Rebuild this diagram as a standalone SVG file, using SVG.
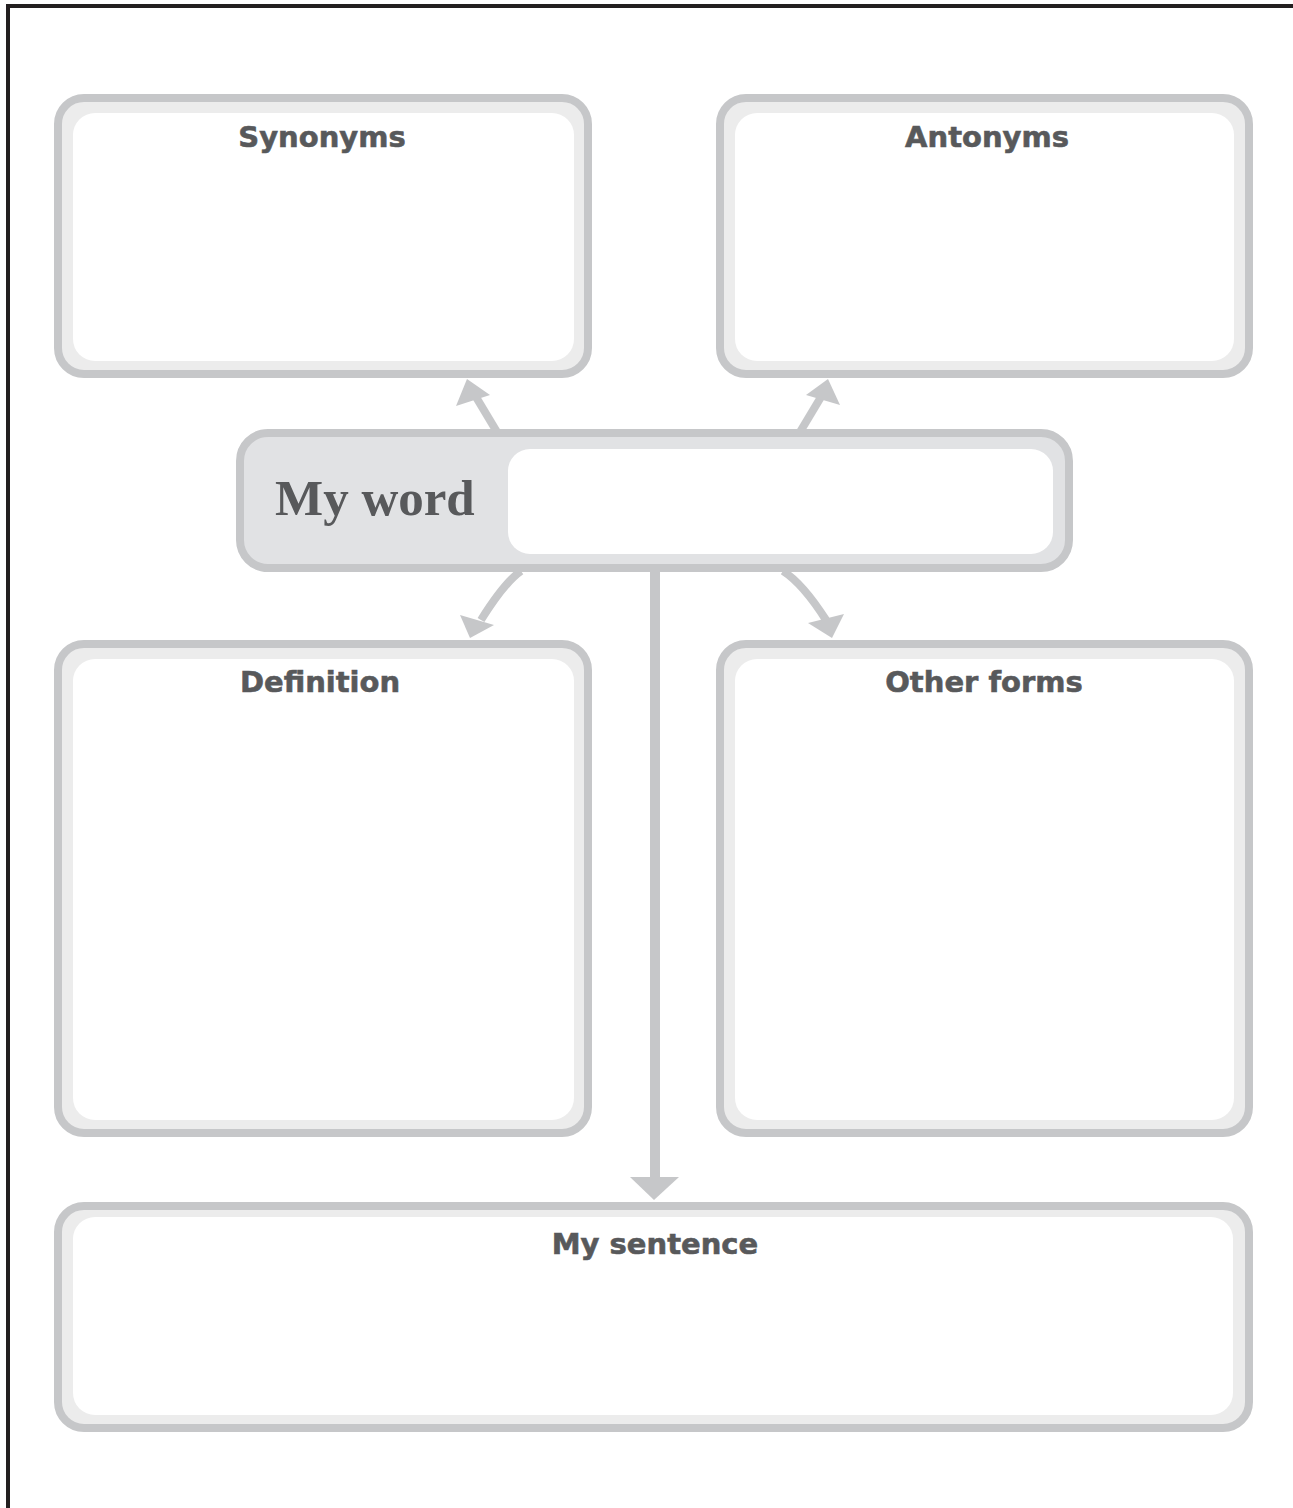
<svg xmlns="http://www.w3.org/2000/svg" width="1293" height="1508" viewBox="0 0 1293 1508">
<style>
.outer{fill:#ececec;stroke:#c6c7c9;stroke-width:8}
.inner{fill:#ffffff}
.hdr{font-family:"DejaVu Sans",sans-serif;font-weight:bold;font-size:29px;fill:#58595b;stroke:#58595b;stroke-width:0.6;text-anchor:middle}
.conn{fill:none;stroke:#c6c7c9;stroke-width:8}
.head{fill:#c6c7c9}
</style>
<rect x="0" y="0" width="1293" height="1508" fill="#ffffff"/>
<path d="M8 1508 V6 H1293" fill="none" stroke="#231f20" stroke-width="4"/>
<g id="connectors">
<path class="conn" d="M497 432 L476 397"/>
<polygon class="head" points="467,379 456,406 490,395"/>
<path class="conn" d="M800 432 L821 397"/>
<polygon class="head" points="828,379 806,395 840,405"/>
<path class="conn" d="M521 571 C508 580 496 596 481 620"/>
<polygon class="head" points="470,638 460,615 494,625"/>
<path class="conn" d="M783 571 C797 580 812 598 826 620"/>
<polygon class="head" points="832,638 808,623 844,614"/>
<path class="conn" d="M655 570 V1180" style="stroke-width:10"/>
<polygon class="head" points="630,1177 679,1177 654,1200"/>
</g>
<g id="synonyms">
<rect class="outer" x="58" y="98" width="530" height="276" rx="26"/>
<rect class="inner" x="73" y="113" width="501" height="248" rx="22"/>
<text class="hdr" x="322" y="147">Synonyms</text>
</g>
<g id="antonyms">
<rect class="outer" x="720" y="98" width="529" height="276" rx="26"/>
<rect class="inner" x="735" y="113" width="499" height="248" rx="22"/>
<text class="hdr" x="987" y="147">Antonyms</text>
</g>
<g id="myword">
<rect x="240" y="433" width="829" height="135" rx="28" fill="#e1e2e4" stroke="#c6c7c9" stroke-width="8"/>
<rect class="inner" x="508" y="449" width="545" height="105" rx="22"/>
<text x="275" y="515" font-family="'Liberation Serif',serif" font-weight="bold" font-size="51" fill="#58595b">My word</text>
</g>
<g id="definition">
<rect class="outer" x="58" y="644" width="530" height="489" rx="26"/>
<rect class="inner" x="73" y="659" width="501" height="461" rx="22"/>
<text class="hdr" x="320" y="692">Definition</text>
</g>
<g id="otherforms">
<rect class="outer" x="720" y="644" width="529" height="489" rx="26"/>
<rect class="inner" x="735" y="659" width="499" height="461" rx="22"/>
<text class="hdr" x="984" y="692">Other forms</text>
</g>
<g id="mysentence">
<rect class="outer" x="58" y="1206" width="1191" height="222" rx="26"/>
<rect class="inner" x="73" y="1217" width="1160" height="198" rx="22"/>
<text class="hdr" x="655" y="1254">My sentence</text>
</g>
</svg>
